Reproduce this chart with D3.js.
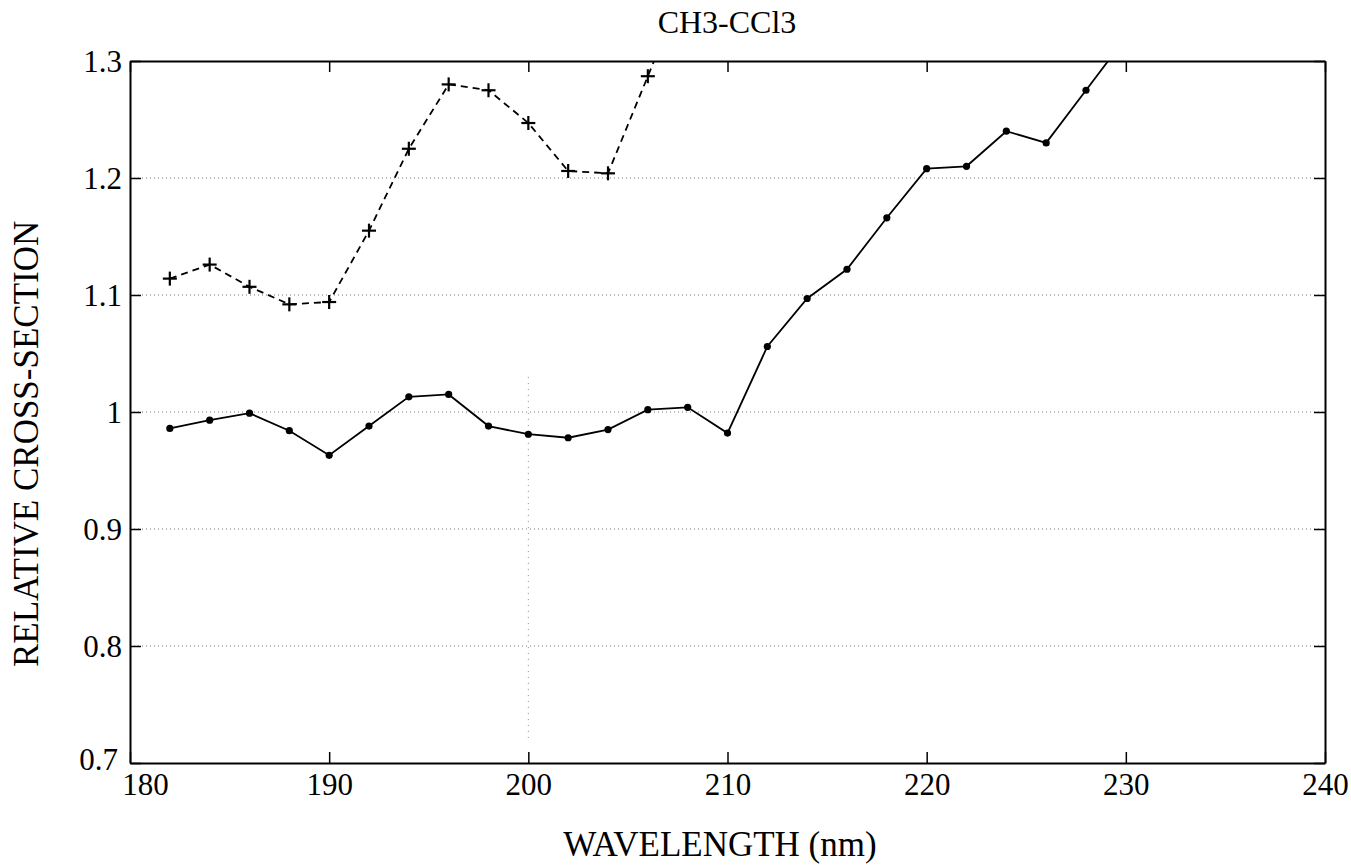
<!DOCTYPE html>
<html>
<head>
<meta charset="utf-8">
<script src="https://cdn.jsdelivr.net/npm/d3@7"></script>
<style>
  html, body { margin: 0; padding: 0; background: #fff; }
  svg { display: block; }
</style>
</head>
<body>
<svg id="chart" width="1351" height="868"></svg>
<script>
// ---- data ----
const titleText = "CH3-CCl3";
const xLabel = "WAVELENGTH (nm)";
const yLabel = "RELATIVE CROSS-SECTION";
const xTicks = [180, 190, 200, 210, 220, 230, 240];
const yTicks = [0.7, 0.8, 0.9, 1.0, 1.1, 1.2, 1.3];
const yTickLabels = ["0.7", "0.8", "0.9", "1", "1.1", "1.2", "1.3"];

// solid line with dots
const solidX = [182, 184, 186, 188, 190, 192, 194, 196, 198, 200, 202, 204, 206, 208, 210, 212, 214, 216, 218, 220, 222, 224, 226, 228, 230];
const solidY = [0.986, 0.993, 0.999, 0.984, 0.963, 0.988, 1.013, 1.015, 0.988, 0.981, 0.978, 0.985, 1.002, 1.004, 0.982, 1.056, 1.097, 1.122, 1.166, 1.208, 1.210, 1.240, 1.230, 1.275, 1.32];

// dashed line with plus markers
const dashX = [182, 184, 186, 188, 190, 192, 194, 196, 198, 200, 202, 204, 206, 208];
const dashY = [1.114, 1.126, 1.107, 1.092, 1.094, 1.155, 1.225, 1.280, 1.275, 1.247, 1.206, 1.204, 1.287, 1.37];

// ---- layout ----
const FONT = "'Liberation Serif', 'Times New Roman', Times, 'DejaVu Serif', serif";
const svg = d3.select("#chart");
const L = 130, R = 1325, T = 61, B = 763;
const x = d3.scaleLinear().domain([180, 240]).range([L, R]);
const y = d3.scaleLinear().domain([0.7, 1.3]).range([B, T]);

svg.append("defs").append("clipPath").attr("id", "plotclip")
  .append("rect").attr("x", L).attr("y", T).attr("width", R - L).attr("height", B - T);

// grid (dotted, faint)
svg.append("g").selectAll("line").data(yTicks.filter(v => v > 0.75 && v < 1.25)).join("line")
  .attr("x1", L).attr("x2", R)
  .attr("y1", d => y(d)).attr("y2", d => y(d))
  .attr("stroke", "#777").attr("stroke-width", 1).attr("stroke-dasharray", "1,3");
svg.append("line")
  .attr("x1", x(200)).attr("x2", x(200)).attr("y1", y(1.03)).attr("y2", y(0.72))
  .attr("stroke", "#888").attr("stroke-width", 1).attr("stroke-dasharray", "1,5");

// axes with inward ticks (MATLAB style)
const tickLen = 11;
const axB = svg.append("g").attr("transform", `translate(0,${B})`)
  .call(d3.axisBottom(x).tickValues(xTicks).tickSizeInner(-tickLen).tickSizeOuter(0).tickPadding(10).tickFormat(d3.format("d")));
const axT = svg.append("g").attr("transform", `translate(0,${T})`)
  .call(d3.axisTop(x).tickValues(xTicks).tickSizeInner(-tickLen).tickSizeOuter(0).tickFormat(""));
const axL = svg.append("g").attr("transform", `translate(${L},0)`)
  .call(d3.axisLeft(y).tickValues(yTicks).tickSizeInner(-tickLen).tickSizeOuter(0).tickPadding(8)
    .tickFormat((d, i) => yTickLabels[i]));
const axR = svg.append("g").attr("transform", `translate(${R},0)`)
  .call(d3.axisRight(y).tickValues(yTicks).tickSizeInner(-tickLen).tickSizeOuter(0).tickFormat(""));

[axB, axT, axL, axR].forEach(g => {
  g.select(".domain").attr("stroke", "#000").attr("stroke-width", 2);
  g.selectAll(".tick line").attr("stroke", "#000").attr("stroke-width", 1.5);
  g.selectAll("text").style("font-family", FONT).style("font-size", "31px").style("fill", "#000");
});
axB.selectAll(".tick text").attr("dy", "0.71em");
axL.selectAll(".tick text").attr("dy", "0.34em");
// corner labels: keep "0.7" and "180" apart as in the reference
axB.selectAll(".tick text").filter(d => d === 180).attr("dx", 15);
axL.selectAll(".tick text").filter(d => d === 0.7).attr("dx", -4).attr("dy", "0.2em");

// lines
const plot = svg.append("g").attr("clip-path", "url(#plotclip)");
const solidData = solidX.map((d, i) => [d, solidY[i]]);
const dashData = dashX.map((d, i) => [d, dashY[i]]);
const line = d3.line().x(d => x(d[0])).y(d => y(d[1]));

plot.append("path").datum(solidData).attr("d", line)
  .attr("fill", "none").attr("stroke", "#000").attr("stroke-width", 1.8);
plot.append("path").datum(dashData).attr("d", line)
  .attr("fill", "none").attr("stroke", "#000").attr("stroke-width", 1.8).attr("stroke-dasharray", "7,5");

plot.selectAll("circle.pt").data(solidData.filter(d => d[1] <= 1.3)).join("circle")
  .attr("class", "pt").attr("cx", d => x(d[0])).attr("cy", d => y(d[1])).attr("r", 3.6).attr("fill", "#000");

const ps = 7;
const plus = plot.selectAll("g.plus").data(dashData.filter(d => d[1] <= 1.3)).join("g")
  .attr("class", "plus").attr("transform", d => `translate(${x(d[0])},${y(d[1])})`);
plus.append("line").attr("x1", -ps).attr("x2", ps).attr("y1", 0).attr("y2", 0).attr("stroke", "#000").attr("stroke-width", 2.2);
plus.append("line").attr("x1", 0).attr("x2", 0).attr("y1", -ps).attr("y2", ps).attr("stroke", "#000").attr("stroke-width", 2.2);

// titles
svg.append("text").attr("x", 727).attr("y", 33).attr("text-anchor", "middle")
  .style("font-family", FONT).style("font-size", "32px").text(titleText);
svg.append("text").attr("x", 720).attr("y", 856).attr("text-anchor", "middle")
  .style("font-family", FONT).style("font-size", "35px").text(xLabel);
svg.append("text").attr("transform", `translate(38,667) rotate(-90)`).attr("text-anchor", "start")
  .style("font-family", FONT).style("font-size", "35px").text(yLabel);
</script>
</body>
</html>
